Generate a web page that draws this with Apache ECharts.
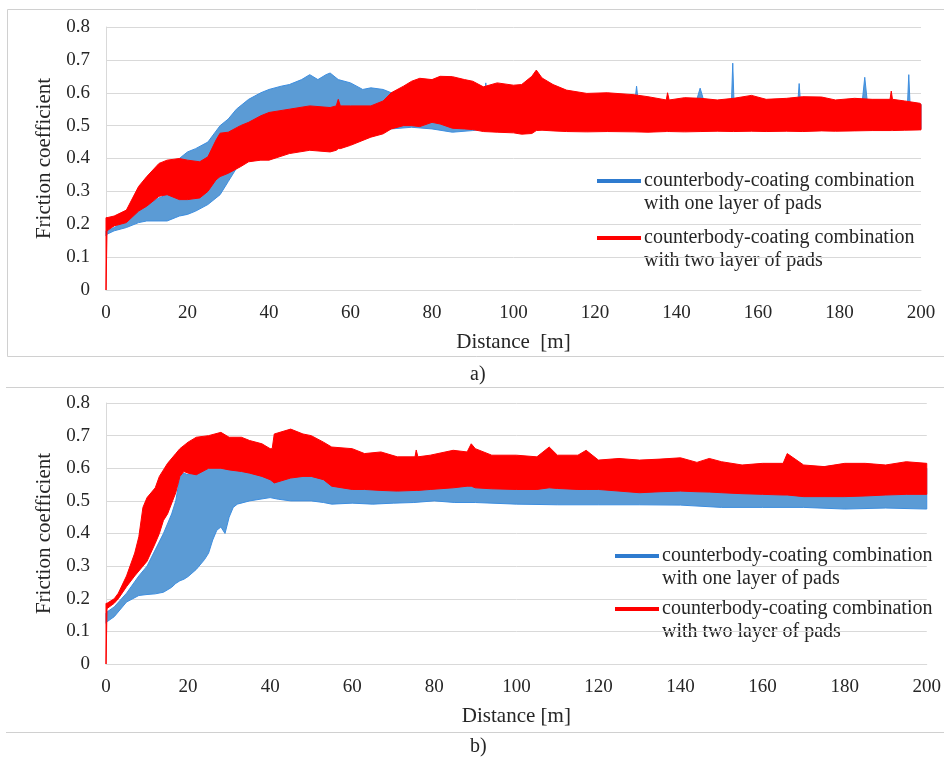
<!DOCTYPE html>
<html>
<head>
<meta charset="utf-8">
<script src="https://cdn.jsdelivr.net/npm/echarts@6/dist/echarts.min.js"></script>
<style>
  html, body { margin: 0; padding: 0; background: #fff; }
  #chart { width: 944px; height: 760px; }
</style>
</head>
<body>
<div id="chart"></div>
<script>
// axis ticks
const xTicks = [0, 200, 20];
const yTicks = [0, 0.8, 0.1];

const legendOne = ['counterbody-coating combination', 'with one layer of pads'];
const legendTwo = ['counterbody-coating combination', 'with two layer of pads'];

// panel a) - one layer of pads (blue band)
const distA1 = [0, 0.3, 2, 5, 8, 10, 13, 15, 17, 18, 20, 22, 25, 28, 30, 32, 35, 38, 40, 43, 45, 48, 50, 52, 54, 55, 57, 60, 63, 65, 68, 70, 75, 80, 85, 90, 92.9, 93.2, 93.5, 100, 105, 110, 115, 120, 125, 129.9, 130.2, 130.5, 135, 140, 145, 145.8, 146.6, 150, 153.5, 153.8, 154.1, 160, 165, 169.8, 170.1, 170.4, 175, 180, 185.6, 186.2, 186.8, 190, 195, 196.7, 197, 197.3, 200];
const upA1 = [0.18, 0.18, 0.19, 0.21, 0.24, 0.26, 0.28, 0.29, 0.30, 0.40, 0.42, 0.43, 0.45, 0.50, 0.52, 0.55, 0.58, 0.60, 0.61, 0.62, 0.625, 0.64, 0.655, 0.64, 0.655, 0.66, 0.64, 0.63, 0.61, 0.615, 0.61, 0.60, 0.60, 0.60, 0.60, 0.60, 0.59, 0.63, 0.59, 0.58, 0.60, 0.58, 0.58, 0.59, 0.59, 0.585, 0.62, 0.585, 0.575, 0.57, 0.58, 0.614, 0.58, 0.575, 0.575, 0.69, 0.575, 0.575, 0.57, 0.575, 0.628, 0.575, 0.57, 0.57, 0.575, 0.647, 0.575, 0.57, 0.565, 0.57, 0.655, 0.57, 0.565];
const loA1 = [0.165, 0.17, 0.18, 0.19, 0.205, 0.21, 0.21, 0.21, 0.22, 0.225, 0.23, 0.24, 0.26, 0.29, 0.33, 0.37, 0.40, 0.42, 0.44, 0.45, 0.46, 0.47, 0.47, 0.48, 0.48, 0.48, 0.48, 0.49, 0.49, 0.49, 0.49, 0.49, 0.495, 0.49, 0.48, 0.485, 0.49, 0.49, 0.49, 0.49, 0.49, 0.49, 0.49, 0.49, 0.49, 0.49, 0.49, 0.49, 0.49, 0.49, 0.49, 0.49, 0.49, 0.49, 0.49, 0.49, 0.49, 0.49, 0.49, 0.49, 0.49, 0.49, 0.49, 0.49, 0.49, 0.49, 0.49, 0.49, 0.49, 0.49, 0.49, 0.49, 0.49];

// panel a) - two layer of pads (red band)
const distA2 = [0, 0.25, 2, 5, 8, 10, 13, 15, 18, 20, 23, 25, 27, 28, 30, 33, 35, 38, 40, 45, 50, 55, 56.5, 57, 57.5, 60, 65, 68, 70, 73, 75, 77, 80, 82, 85, 88, 90, 92.6, 96, 100, 102, 104.5, 105.6, 107, 109.7, 113, 118, 123, 129.6, 133, 137.5, 137.8, 138.2, 142, 146, 150, 154, 158.4, 162, 167, 171, 175.6, 179, 183.7, 188, 192.4, 192.7, 193, 196, 199.7, 200];
const upA2 = [0.22, 0.22, 0.225, 0.243, 0.315, 0.345, 0.385, 0.395, 0.40, 0.395, 0.39, 0.405, 0.456, 0.477, 0.48, 0.50, 0.51, 0.53, 0.54, 0.55, 0.56, 0.555, 0.56, 0.58, 0.56, 0.56, 0.56, 0.575, 0.60, 0.62, 0.635, 0.644, 0.64, 0.65, 0.649, 0.64, 0.635, 0.618, 0.63, 0.623, 0.625, 0.65, 0.669, 0.645, 0.625, 0.608, 0.598, 0.60, 0.594, 0.588, 0.578, 0.60, 0.578, 0.585, 0.583, 0.578, 0.583, 0.592, 0.58, 0.583, 0.588, 0.587, 0.578, 0.583, 0.58, 0.58, 0.605, 0.58, 0.575, 0.568, 0.565];
const loA2 = [0, 0.18, 0.195, 0.205, 0.24, 0.255, 0.285, 0.29, 0.275, 0.275, 0.28, 0.30, 0.335, 0.345, 0.355, 0.375, 0.39, 0.395, 0.395, 0.415, 0.425, 0.42, 0.425, 0.43, 0.43, 0.44, 0.465, 0.475, 0.49, 0.50, 0.50, 0.497, 0.51, 0.505, 0.492, 0.49, 0.488, 0.482, 0.48, 0.478, 0.474, 0.476, 0.485, 0.486, 0.484, 0.482, 0.481, 0.482, 0.481, 0.48, 0.482, 0.482, 0.482, 0.481, 0.482, 0.483, 0.482, 0.483, 0.482, 0.483, 0.482, 0.484, 0.483, 0.484, 0.485, 0.485, 0.485, 0.485, 0.486, 0.487, 0.487];

// panel b) - one layer of pads (blue band)
const distB1 = [0, 0.3, 2, 5, 8, 10, 12, 14, 16, 17, 18, 19, 20, 22, 24, 25, 26, 27, 28, 29, 30, 31, 32, 35, 40, 42, 45, 50, 53, 55, 60, 65, 70, 75, 80, 85, 90, 100, 110, 120, 130, 140, 150, 160, 170, 180, 190, 200];
const upB1 = [0.155, 0.16, 0.175, 0.217, 0.27, 0.30, 0.35, 0.40, 0.46, 0.50, 0.575, 0.585, 0.58, 0.59, 0.605, 0.61, 0.61, 0.605, 0.61, 0.61, 0.605, 0.60, 0.60, 0.60, 0.58, 0.575, 0.59, 0.595, 0.59, 0.58, 0.60, 0.60, 0.60, 0.60, 0.60, 0.61, 0.62, 0.625, 0.63, 0.62, 0.615, 0.615, 0.61, 0.605, 0.60, 0.61, 0.60, 0.60];
const loB1 = [0.125, 0.13, 0.145, 0.19, 0.21, 0.213, 0.215, 0.22, 0.235, 0.247, 0.255, 0.26, 0.268, 0.29, 0.32, 0.34, 0.38, 0.41, 0.42, 0.40, 0.45, 0.48, 0.49, 0.50, 0.51, 0.505, 0.50, 0.50, 0.495, 0.49, 0.493, 0.49, 0.493, 0.495, 0.50, 0.495, 0.495, 0.49, 0.488, 0.488, 0.488, 0.487, 0.48, 0.48, 0.48, 0.475, 0.478, 0.475];

// panel b) - two layer of pads (red band)
const distB2 = [0, 0.25, 2, 3, 5, 7, 8, 9, 10, 12, 13, 14, 15, 17, 18, 19, 20, 22, 25, 28, 30, 33, 35, 38, 40, 40.5, 41, 45, 48, 50, 53, 55, 60, 63, 67, 71, 75.3, 75.6, 76, 79, 84.6, 88, 89, 90, 94, 100, 105, 108, 110, 115, 117, 120, 125, 130, 135, 140, 144, 147, 150, 155, 160, 165, 166, 170, 175, 180, 185, 190, 195, 200];
const upB2 = [0.186, 0.186, 0.20, 0.217, 0.27, 0.34, 0.39, 0.48, 0.51, 0.54, 0.575, 0.595, 0.615, 0.645, 0.66, 0.67, 0.68, 0.695, 0.70, 0.71, 0.695, 0.695, 0.685, 0.675, 0.66, 0.66, 0.705, 0.72, 0.705, 0.70, 0.68, 0.665, 0.66, 0.645, 0.65, 0.635, 0.635, 0.656, 0.635, 0.64, 0.655, 0.65, 0.675, 0.66, 0.64, 0.64, 0.635, 0.665, 0.64, 0.64, 0.655, 0.625, 0.63, 0.625, 0.628, 0.632, 0.618, 0.63, 0.62, 0.61, 0.615, 0.615, 0.645, 0.61, 0.605, 0.615, 0.615, 0.61, 0.62, 0.615];
const loB2 = [0, 0.17, 0.186, 0.20, 0.237, 0.27, 0.285, 0.30, 0.315, 0.37, 0.40, 0.44, 0.46, 0.525, 0.575, 0.59, 0.585, 0.58, 0.60, 0.60, 0.595, 0.59, 0.585, 0.575, 0.565, 0.56, 0.555, 0.57, 0.575, 0.575, 0.565, 0.545, 0.535, 0.535, 0.532, 0.53, 0.532, 0.532, 0.532, 0.535, 0.54, 0.545, 0.545, 0.54, 0.537, 0.535, 0.535, 0.54, 0.538, 0.535, 0.535, 0.535, 0.53, 0.525, 0.528, 0.53, 0.528, 0.527, 0.525, 0.522, 0.52, 0.518, 0.518, 0.513, 0.513, 0.513, 0.515, 0.518, 0.52, 0.52];

const BLUE = '#5b9bd5';
const BLUE_EDGE = '#3d8ee0';
const RED = '#ff0000';
const FONT = 'Liberation Serif';
const TXT = '#262626';

function rows(dist, lo, up) {
    return dist.map((d, i) => [d, lo[i], up[i]]);
}

// the whole band is one polygon: upper edge forward, lower edge back
function band(name, gridIdx, dist, lo, up, fill, edge) {
    return {
        name: name,
        type: 'custom',
        xAxisIndex: gridIdx,
        yAxisIndex: gridIdx,
        data: rows(dist, lo, up),
        encode: { x: 0, y: [1, 2] },
        silent: true,
        renderItem: function (params, api) {
            if (params.dataIndex !== 0) return null;
            const pts = [];
            for (let i = 0; i < dist.length; i++) pts.push(api.coord([dist[i], up[i]]));
            for (let i = dist.length - 1; i >= 0; i--) pts.push(api.coord([dist[i], lo[i]]));
            return {
                type: 'polygon',
                shape: { points: pts },
                style: { fill: fill, stroke: edge, lineWidth: 1 }
            };
        }
    };
}

function xAxis(gridIdx, name) {
    return {
        type: 'value', gridIndex: gridIdx,
        min: xTicks[0], max: xTicks[1], interval: xTicks[2],
        name: name, nameLocation: 'middle', nameGap: 42,
        nameTextStyle: { fontFamily: FONT, fontSize: 21, color: TXT },
        axisLine: { show: true, lineStyle: { color: '#d9d9d9', width: 1 } },
        axisTick: { show: false },
        splitLine: { show: false },
        axisLabel: { fontFamily: FONT, fontSize: 19, color: TXT, margin: 14 }
    };
}

function yAxis(gridIdx) {
    return {
        type: 'value', gridIndex: gridIdx,
        min: yTicks[0], max: yTicks[1], interval: yTicks[2],
        name: 'Friction coefficient', nameLocation: 'middle', nameGap: 50, nameRotate: 90,
        nameTextStyle: { fontFamily: FONT, fontSize: 21, color: TXT },
        axisLine: { show: true, lineStyle: { color: '#d9d9d9', width: 1 } },
        axisTick: { show: false },
        splitLine: { show: true, lineStyle: { color: '#d9d9d9', width: 1 } },
        axisLabel: {
            fontFamily: FONT, fontSize: 19, color: TXT, margin: 16,
            formatter: v => (v === 0 ? '0' : v.toFixed(1))
        }
    };
}

function legendBlock(x, y, color, lines) {
    return [
        { type: 'line', shape: { x1: x, y1: y, x2: x + 44, y2: y }, style: { stroke: color, lineWidth: 4 } },
        { type: 'text', x: x + 47, y: y, style: { text: lines[0], font: '20px "' + FONT + '"', fill: TXT, textVerticalAlign: 'middle' } },
        { type: 'text', x: x + 47, y: y + 23, style: { text: lines[1], font: '20px "' + FONT + '"', fill: TXT, textVerticalAlign: 'middle' } }
    ];
}

const chart = echarts.init(document.getElementById('chart'));
chart.setOption({
    animation: false,
    backgroundColor: '#fff',
    grid: [
        { left: 106, right: 23, top: 27, height: 263 },
        { left: 106, right: 17, top: 403, height: 261 }
    ],
    xAxis: [xAxis(0, 'Distance  [m]'), xAxis(1, 'Distance [m]')],
    yAxis: [yAxis(0), yAxis(1)],
    series: [
        band('one layer a', 0, distA1, loA1, upA1, BLUE, BLUE_EDGE),
        band('two layer a', 0, distA2, loA2, upA2, RED, RED),
        band('one layer b', 1, distB1, loB1, upB1, BLUE, BLUE_EDGE),
        band('two layer b', 1, distB2, loB2, upB2, RED, RED)
    ],
    graphic: [
        { type: 'rect', shape: { x: 7.5, y: 9.5, width: 960, height: 347 }, style: { fill: 'none', stroke: '#d0d0d0', lineWidth: 1 } },
        { type: 'line', shape: { x1: 6, y1: 387.5, x2: 944, y2: 387.5 }, style: { stroke: '#d0d0d0', lineWidth: 1 } },
        { type: 'line', shape: { x1: 6, y1: 732.5, x2: 944, y2: 732.5 }, style: { stroke: '#d0d0d0', lineWidth: 1 } },
        { type: 'text', x: 470, y: 375, style: { text: 'a)', font: '20px "' + FONT + '"', fill: TXT, textVerticalAlign: 'middle' } },
        { type: 'text', x: 470, y: 747, style: { text: 'b)', font: '20px "' + FONT + '"', fill: TXT, textVerticalAlign: 'middle' } }
    ]
        .concat(legendBlock(597, 181, '#2e7bcf', legendOne))
        .concat(legendBlock(597, 238, RED, legendTwo))
        .concat(legendBlock(615, 556, '#2e7bcf', legendOne))
        .concat(legendBlock(615, 609, RED, legendTwo))
});
</script>
</body>
</html>
